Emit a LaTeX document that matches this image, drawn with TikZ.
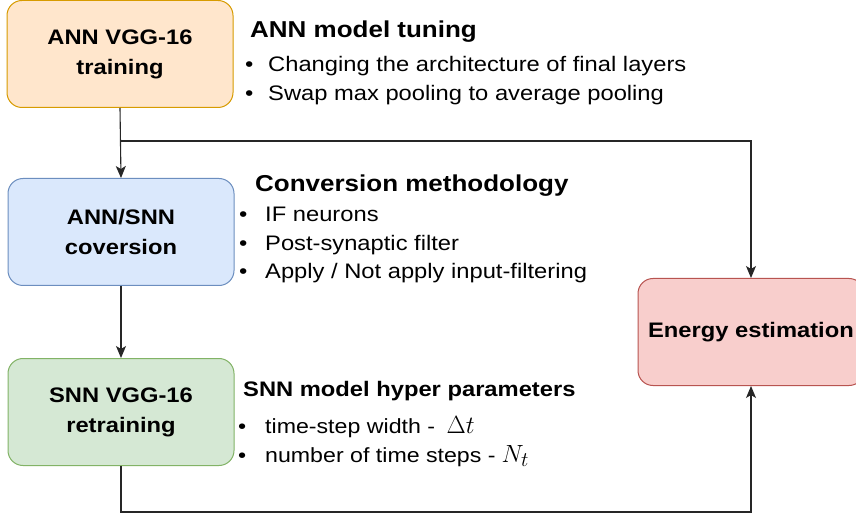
\documentclass[tikz,border=0pt]{standalone}
\usepackage{fontspec}
\setmainfont[FakeStretch=1.13]{Liberation Sans}
\usetikzlibrary{arrows.meta}
\definecolor{orF}{HTML}{FFE6CC}\definecolor{orD}{HTML}{D79B00}
\definecolor{blF}{HTML}{DAE8FC}\definecolor{blD}{HTML}{6C8EBF}
\definecolor{grF}{HTML}{D5E8D4}\definecolor{grD}{HTML}{82B366}
\definecolor{rdF}{HTML}{F8CECC}\definecolor{rdD}{HTML}{B85450}
\begin{document}
\begin{tikzpicture}[x=1pt,y=-1pt,
 box/.style={rounded corners=15pt, line width=1pt, minimum width=226pt, minimum height=107pt, align=center, font=\fontsize{21}{30}\selectfont\bfseries, inner sep=0pt},
 ttl/.style={anchor=base west, inner sep=0pt, font=\fontsize{23}{28}\selectfont\bfseries},
 itm/.style={anchor=base west, inner sep=0pt, font=\fontsize{21}{24}\selectfont},
 conn/.style={line width=1.1pt, draw=black!85},
 arr/.style={conn, -{Stealth[length=12pt,width=10pt,inset=3pt]}}]
\useasboundingbox (0,0) rectangle (856,518);
\fill[white] (0,0) rectangle (856,518);
\node[box, fill=orF, draw=orD] (b1) at (120,54) {ANN VGG-16\\training};
\node[box, fill=blF, draw=blD] (b2) at (121,232) {ANN/SNN\\coversion};
\node[box, fill=grF, draw=grD] (b3) at (121,412) {SNN VGG-16\\retraining};
\node[box, fill=rdF, draw=rdD] (b4) at (751,332) {Energy estimation};
\node[ttl] (t1) at (250,38) {ANN model tuning};
\node[itm] (i11) at (245,72) {\makebox[23pt][l]{\textbullet}Changing the architecture of final layers};
\node[itm] (i12) at (245,101) {\makebox[23pt][l]{\textbullet}Swap max pooling to average pooling};
\node[ttl] (t2) at (255,192) {Conversion methodology};
\node[itm] (i21) at (239,222) {\makebox[26pt][l]{\textbullet}IF neurons};
\node[itm] (i22) at (239,251) {\makebox[26pt][l]{\textbullet}Post-synaptic filter};
\node[itm] (i23) at (239,279) {\makebox[26pt][l]{\textbullet}Apply / Not apply input-filtering};
\node[ttl, font=\fontsize{21}{24}\selectfont\bfseries] (t3) at (243,396) {SNN model hyper parameters};
\node[itm, font=\fontsize{20.5}{22}\selectfont] (i31) at (238,433) {\makebox[27pt][l]{\textbullet}time-step width - \hspace{5pt}{\fontsize{29}{29}\selectfont$\Delta t$}};
\node[itm, font=\fontsize{20.5}{22}\selectfont] (i32) at (238,462) {\makebox[27pt][l]{\textbullet}number of time steps -\hspace{6pt}{\fontsize{29}{29}\selectfont$N_t$}};
\coordinate (j1) at (b1.south |- 0,141);
\coordinate (j2) at (b3.south |- 0,512);
\draw[arr] (b1.south) -- (b2.north);
\draw[arr] (j1) -| (b4.north);
\draw[arr] (b2.south) -- (b3.north);
\draw[arr] (b3.south) |- (j2) -| (b4.south);
\end{tikzpicture}
\end{document}
